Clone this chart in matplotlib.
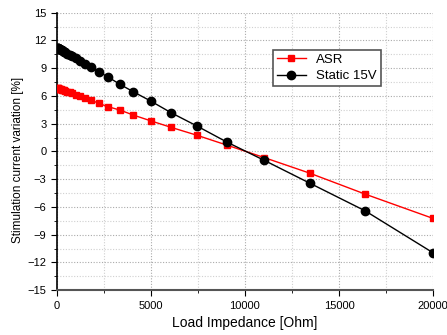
import matplotlib
matplotlib.use("Agg")
import matplotlib.pyplot as plt
from matplotlib.ticker import MultipleLocator

plt.rcParams['font.family'] = ['Liberation Sans', 'DejaVu Sans']

# load impedance values [Ohm]
load_ohm = [51, 62, 76, 93, 113, 138, 169, 206, 252, 307, 374, 457, 557, 680,
            829, 1012, 1234, 1506, 1840, 2230, 2740, 3360, 4070, 4990, 6080,
            7430, 9040, 11030, 13440, 16390, 20000]

asr = [6.83, 6.83, 6.82, 6.80, 6.79, 6.77, 6.75, 6.72, 6.69, 6.65, 6.60, 6.54,
       6.47, 6.38, 6.27, 6.14, 5.98, 5.80, 5.55, 5.19, 4.83, 4.47, 3.93, 3.31,
       2.60, 1.76, 0.68, -0.67, -2.35, -4.62, -7.25]

static_15v = [11.18, 11.17, 11.15, 11.13, 11.11, 11.08, 11.04, 11.00, 10.95,
              10.88, 10.80, 10.71, 10.59, 10.44, 10.27, 10.06, 9.80, 9.48, 9.09,
              8.61, 8.03, 7.25, 6.45, 5.45, 4.18, 2.77, 1.01, -0.97, -3.43,
              -6.43, -10.97]

fig = plt.figure(figsize=(4.47, 3.35), dpi=100)
ax = fig.add_axes([0.127, 0.134, 0.842, 0.828])

ax.plot(load_ohm, asr, color='red', marker='s', markersize=5, lw=1,
        label='ASR', zorder=3)
ax.plot(load_ohm, static_15v, color='black', marker='o', markersize=6, lw=1,
        label='Static 15V', zorder=3)

ax.set_xlim(0, 20000)
ax.set_ylim(-15, 15)
ax.xaxis.set_major_locator(MultipleLocator(5000))
ax.xaxis.set_minor_locator(MultipleLocator(2500))
ax.yaxis.set_major_locator(MultipleLocator(3))
ax.yaxis.set_minor_locator(MultipleLocator(1.5))

ax.grid(which='major', color='#aaaaaa', linestyle=(0, (1, 1.5)), linewidth=0.8)
ax.grid(which='minor', color='#d0d0d0', linestyle=(0, (1, 1.5)), linewidth=0.8)
ax.set_axisbelow(True)

ax.spines['top'].set_visible(False)
ax.spines['right'].set_visible(False)
ax.spines['left'].set_linewidth(1.2)
ax.spines['bottom'].set_linewidth(1.5)
ax.spines['bottom'].set_color('#555555')
ax.tick_params(which='major', direction='out', length=4, labelsize=8)
ax.tick_params(which='minor', direction='out', length=2.5)

ax.set_xlabel('Load Impedance [Ohm]', fontsize=10)
ax.set_ylabel('Stimulation current variation [%]', fontsize=8.5)
ax.yaxis.set_label_coords(-0.087, 0.47)

leg = ax.legend(loc='upper left', bbox_to_anchor=(0.574, 0.866), fontsize=9.5,
                numpoints=1, fancybox=False, framealpha=1, borderpad=0.3,
                handlelength=2.2, labelspacing=0.3, borderaxespad=0)
leg.get_frame().set_edgecolor('#555555')
leg.get_frame().set_linewidth(1.2)

fig.savefig('out.png', dpi=100)
